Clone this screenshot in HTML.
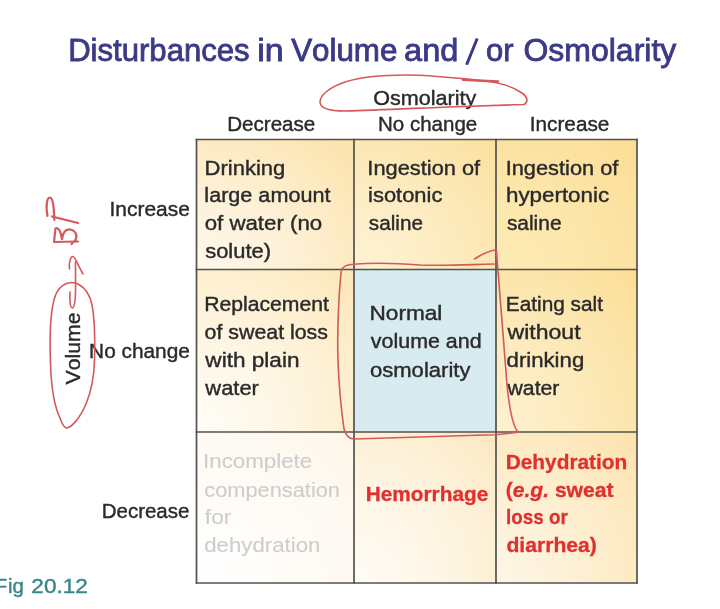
<!DOCTYPE html>
<html><head><meta charset="utf-8"><title>Disturbances in Volume and / or Osmolarity</title>
<style>html,body{margin:0;padding:0;background:#fff;width:720px;height:609px;overflow:hidden}svg{display:block;filter:blur(0.45px)}</style>
</head><body>
<svg width="720" height="609" viewBox="0 0 720 609">
<defs><radialGradient id="g00" cx="0" cy="1" r="1.414" fx="0" fy="1"><stop offset="0" stop-color="#fef8ec"/><stop offset="0.4" stop-color="#fdf1d8"/><stop offset="0.7" stop-color="#fdeac2"/><stop offset="1" stop-color="#fce2a8"/></radialGradient><radialGradient id="g01" cx="0" cy="1" r="1.414" fx="0" fy="1"><stop offset="0" stop-color="#fdf2d4"/><stop offset="0.4" stop-color="#fdedc4"/><stop offset="0.7" stop-color="#fce7b3"/><stop offset="1" stop-color="#fce09e"/></radialGradient><radialGradient id="g02" cx="0" cy="1" r="1.414" fx="0" fy="1"><stop offset="0" stop-color="#fdebb6"/><stop offset="0.4" stop-color="#fde7ac"/><stop offset="0.7" stop-color="#fce2a1"/><stop offset="1" stop-color="#fcdd94"/></radialGradient><radialGradient id="g10" cx="0" cy="1" r="1.414" fx="0" fy="1"><stop offset="0" stop-color="#fffdf8"/><stop offset="0.4" stop-color="#fef6e4"/><stop offset="0.7" stop-color="#fdefcf"/><stop offset="1" stop-color="#fce6b6"/></radialGradient><radialGradient id="g12" cx="0" cy="1" r="1.414" fx="0" fy="1"><stop offset="0" stop-color="#fdf1d0"/><stop offset="0.4" stop-color="#fdebbe"/><stop offset="0.7" stop-color="#fce5ab"/><stop offset="1" stop-color="#fcdd94"/></radialGradient><radialGradient id="g20" cx="0" cy="1" r="1.414" fx="0" fy="1"><stop offset="0" stop-color="#ffffff"/><stop offset="0.4" stop-color="#fffcf8"/><stop offset="0.7" stop-color="#fef9f1"/><stop offset="1" stop-color="#fef6e8"/></radialGradient><radialGradient id="g21" cx="0" cy="1" r="1.414" fx="0" fy="1"><stop offset="0" stop-color="#fffcf7"/><stop offset="0.4" stop-color="#fef6e6"/><stop offset="0.7" stop-color="#fdf0d5"/><stop offset="1" stop-color="#fce8c0"/></radialGradient><radialGradient id="g22" cx="0" cy="1" r="1.414" fx="0" fy="1"><stop offset="0" stop-color="#fef6e6"/><stop offset="0.4" stop-color="#fdf0d5"/><stop offset="0.7" stop-color="#fdeac2"/><stop offset="1" stop-color="#fce2ac"/></radialGradient></defs>
<rect width="720" height="609" fill="#ffffff"/>
<rect x="196.5" y="139.5" width="157.5" height="130.0" fill="url(#g00)"/><rect x="354" y="139.5" width="142" height="130.0" fill="url(#g01)"/><rect x="496" y="139.5" width="141" height="130.0" fill="url(#g02)"/><rect x="196.5" y="269.5" width="157.5" height="162.5" fill="url(#g10)"/><rect x="354" y="269.5" width="142" height="162.5" fill="#d8ebf0"/><rect x="496" y="269.5" width="141" height="162.5" fill="url(#g12)"/><rect x="196.5" y="432" width="157.5" height="151" fill="url(#g20)"/><rect x="354" y="432" width="142" height="151" fill="url(#g21)"/><rect x="496" y="432" width="141" height="151" fill="url(#g22)"/>
<line x1="196.5" y1="138.65" x2="196.5" y2="583.85" stroke="#52524e" stroke-width="1.7"/><line x1="354" y1="138.65" x2="354" y2="583.85" stroke="#52524e" stroke-width="1.7"/><line x1="496" y1="138.65" x2="496" y2="583.85" stroke="#52524e" stroke-width="1.7"/><line x1="637" y1="138.65" x2="637" y2="583.85" stroke="#52524e" stroke-width="1.7"/><line x1="195.65" y1="139.5" x2="637.85" y2="139.5" stroke="#52524e" stroke-width="1.7"/><line x1="195.65" y1="269.5" x2="637.85" y2="269.5" stroke="#52524e" stroke-width="1.7"/><line x1="195.65" y1="432" x2="637.85" y2="432" stroke="#52524e" stroke-width="1.7"/><line x1="195.65" y1="583" x2="637.85" y2="583" stroke="#52524e" stroke-width="1.7"/>
<g style="font-family:'Liberation Sans',sans-serif;font-kerning:none">
<text x="68.15" y="61.00" font-size="32" fill="#3b3a86" font-weight="normal" font-style="normal" textLength="181.47" lengthAdjust="spacingAndGlyphs" xml:space="preserve" stroke="#3b3a86" stroke-width="0.85">Disturbances</text>
<text x="257.22" y="61.00" font-size="32" fill="#3b3a86" font-weight="normal" font-style="normal" textLength="26.49" lengthAdjust="spacingAndGlyphs" xml:space="preserve" stroke="#3b3a86" stroke-width="0.85">in</text>
<text x="291.16" y="61.00" font-size="32" fill="#3b3a86" font-weight="normal" font-style="normal" textLength="106.23" lengthAdjust="spacingAndGlyphs" xml:space="preserve" stroke="#3b3a86" stroke-width="0.85">Volume</text>
<text x="404.12" y="61.00" font-size="32" fill="#3b3a86" font-weight="normal" font-style="normal" textLength="54.28" lengthAdjust="spacingAndGlyphs" xml:space="preserve" stroke="#3b3a86" stroke-width="0.85">and</text>
<text x="486.00" y="61.00" font-size="32" fill="#3b3a86" font-weight="normal" font-style="normal" textLength="27.51" lengthAdjust="spacingAndGlyphs" xml:space="preserve" stroke="#3b3a86" stroke-width="0.85">or</text>
<text x="523.49" y="61.00" font-size="32" fill="#3b3a86" font-weight="normal" font-style="normal" textLength="152.78" lengthAdjust="spacingAndGlyphs" xml:space="preserve" stroke="#3b3a86" stroke-width="0.85">Osmolarity</text>
<path d="M477.2,38.5 L466.6,64.8" stroke="#3b3a86" stroke-width="3" stroke-linecap="butt"/>
<text x="373.18" y="105.30" font-size="20.5" fill="#2a2a2a" font-weight="normal" font-style="normal" textLength="103.16" lengthAdjust="spacingAndGlyphs" xml:space="preserve" stroke="#2a2a2a" stroke-width="0.4">Osmolarity</text>
<text x="227.21" y="131.00" font-size="20.5" fill="#2a2a2a" font-weight="normal" font-style="normal" textLength="88.10" lengthAdjust="spacingAndGlyphs" xml:space="preserve" stroke="#2a2a2a" stroke-width="0.4">Decrease</text>
<text x="378.02" y="130.50" font-size="20.5" fill="#2a2a2a" font-weight="normal" font-style="normal" textLength="99.19" lengthAdjust="spacingAndGlyphs" xml:space="preserve" stroke="#2a2a2a" stroke-width="0.4">No change</text>
<text x="529.78" y="131.00" font-size="20.5" fill="#2a2a2a" font-weight="normal" font-style="normal" textLength="79.64" lengthAdjust="spacingAndGlyphs" xml:space="preserve" stroke="#2a2a2a" stroke-width="0.4">Increase</text>
<text x="109.47" y="216.40" font-size="20.5" fill="#2a2a2a" font-weight="normal" font-style="normal" textLength="80.36" lengthAdjust="spacingAndGlyphs" xml:space="preserve" stroke="#2a2a2a" stroke-width="0.4">Increase</text>
<text x="89.09" y="358.30" font-size="20.5" fill="#2a2a2a" font-weight="normal" font-style="normal" textLength="100.84" lengthAdjust="spacingAndGlyphs" xml:space="preserve" stroke="#2a2a2a" stroke-width="0.4">No change</text>
<text x="101.72" y="517.50" font-size="20.5" fill="#2a2a2a" font-weight="normal" font-style="normal" textLength="87.69" lengthAdjust="spacingAndGlyphs" xml:space="preserve" stroke="#2a2a2a" stroke-width="0.4">Decrease</text>
<text x="-3.76" y="593.20" font-size="20.5" fill="#3a868a" font-weight="normal" font-style="normal" textLength="10.87" lengthAdjust="spacingAndGlyphs" xml:space="preserve" stroke="#3a868a" stroke-width="0.4">F</text>
<text x="8.04" y="593.20" font-size="20.5" fill="#3a868a" font-weight="normal" font-style="normal" textLength="15.88" lengthAdjust="spacingAndGlyphs" xml:space="preserve" stroke="#3a868a" stroke-width="0.4">ig</text>
<text x="31.37" y="593.20" font-size="20.5" fill="#3a868a" font-weight="normal" font-style="normal" textLength="56.47" lengthAdjust="spacingAndGlyphs" xml:space="preserve" stroke="#3a868a" stroke-width="0.4">20.12</text>
<text x="204.59" y="174.60" font-size="20.5" fill="#2a2a2a" font-weight="normal" font-style="normal" textLength="80.72" lengthAdjust="spacingAndGlyphs" xml:space="preserve" stroke="#2a2a2a" stroke-width="0.4">Drinking</text>
<text x="204.34" y="202.20" font-size="20.5" fill="#2a2a2a" font-weight="normal" font-style="normal" textLength="126.11" lengthAdjust="spacingAndGlyphs" xml:space="preserve" stroke="#2a2a2a" stroke-width="0.4">large amount</text>
<text x="204.67" y="229.80" font-size="20.5" fill="#2a2a2a" font-weight="normal" font-style="normal" textLength="117.57" lengthAdjust="spacingAndGlyphs" xml:space="preserve" stroke="#2a2a2a" stroke-width="0.4">of water (no</text>
<text x="205.19" y="257.80" font-size="20.5" fill="#2a2a2a" font-weight="normal" font-style="normal" textLength="65.87" lengthAdjust="spacingAndGlyphs" xml:space="preserve" stroke="#2a2a2a" stroke-width="0.4">solute)</text>
<text x="367.39" y="174.60" font-size="20.5" fill="#2a2a2a" font-weight="normal" font-style="normal" textLength="112.78" lengthAdjust="spacingAndGlyphs" xml:space="preserve" stroke="#2a2a2a" stroke-width="0.4">Ingestion of</text>
<text x="368.14" y="202.40" font-size="20.5" fill="#2a2a2a" font-weight="normal" font-style="normal" textLength="74.24" lengthAdjust="spacingAndGlyphs" xml:space="preserve" stroke="#2a2a2a" stroke-width="0.4">isotonic</text>
<text x="368.82" y="230.40" font-size="20.5" fill="#2a2a2a" font-weight="normal" font-style="normal" textLength="54.10" lengthAdjust="spacingAndGlyphs" xml:space="preserve" stroke="#2a2a2a" stroke-width="0.4">saline</text>
<text x="505.69" y="174.50" font-size="20.5" fill="#2a2a2a" font-weight="normal" font-style="normal" textLength="112.68" lengthAdjust="spacingAndGlyphs" xml:space="preserve" stroke="#2a2a2a" stroke-width="0.4">Ingestion of</text>
<text x="505.95" y="202.40" font-size="20.5" fill="#2a2a2a" font-weight="normal" font-style="normal" textLength="103.24" lengthAdjust="spacingAndGlyphs" xml:space="preserve" stroke="#2a2a2a" stroke-width="0.4">hypertonic</text>
<text x="506.92" y="230.40" font-size="20.5" fill="#2a2a2a" font-weight="normal" font-style="normal" textLength="54.61" lengthAdjust="spacingAndGlyphs" xml:space="preserve" stroke="#2a2a2a" stroke-width="0.4">saline</text>
<text x="204.16" y="310.70" font-size="20.5" fill="#2a2a2a" font-weight="normal" font-style="normal" textLength="124.79" lengthAdjust="spacingAndGlyphs" xml:space="preserve" stroke="#2a2a2a" stroke-width="0.4">Replacement</text>
<text x="204.60" y="339.00" font-size="20.5" fill="#2a2a2a" font-weight="normal" font-style="normal" textLength="123.37" lengthAdjust="spacingAndGlyphs" xml:space="preserve" stroke="#2a2a2a" stroke-width="0.4">of sweat loss</text>
<text x="205.33" y="366.80" font-size="20.5" fill="#2a2a2a" font-weight="normal" font-style="normal" textLength="94.13" lengthAdjust="spacingAndGlyphs" xml:space="preserve" stroke="#2a2a2a" stroke-width="0.4">with plain</text>
<text x="205.33" y="395.00" font-size="20.5" fill="#2a2a2a" font-weight="normal" font-style="normal" textLength="53.53" lengthAdjust="spacingAndGlyphs" xml:space="preserve" stroke="#2a2a2a" stroke-width="0.4">water</text>
<text x="369.55" y="320.00" font-size="20.5" fill="#2a2a2a" font-weight="normal" font-style="normal" textLength="72.76" lengthAdjust="spacingAndGlyphs" xml:space="preserve" stroke="#2a2a2a" stroke-width="0.4">Normal</text>
<text x="370.83" y="348.30" font-size="20.5" fill="#2a2a2a" font-weight="normal" font-style="normal" textLength="110.75" lengthAdjust="spacingAndGlyphs" xml:space="preserve" stroke="#2a2a2a" stroke-width="0.4">volume and</text>
<text x="369.97" y="376.60" font-size="20.5" fill="#2a2a2a" font-weight="normal" font-style="normal" textLength="100.47" lengthAdjust="spacingAndGlyphs" xml:space="preserve" stroke="#2a2a2a" stroke-width="0.4">osmolarity</text>
<text x="505.79" y="310.70" font-size="20.5" fill="#2a2a2a" font-weight="normal" font-style="normal" textLength="97.26" lengthAdjust="spacingAndGlyphs" xml:space="preserve" stroke="#2a2a2a" stroke-width="0.4">Eating salt</text>
<text x="507.53" y="338.70" font-size="20.5" fill="#2a2a2a" font-weight="normal" font-style="normal" textLength="73.04" lengthAdjust="spacingAndGlyphs" xml:space="preserve" stroke="#2a2a2a" stroke-width="0.4">without</text>
<text x="506.57" y="366.80" font-size="20.5" fill="#2a2a2a" font-weight="normal" font-style="normal" textLength="77.66" lengthAdjust="spacingAndGlyphs" xml:space="preserve" stroke="#2a2a2a" stroke-width="0.4">drinking</text>
<text x="507.53" y="394.80" font-size="20.5" fill="#2a2a2a" font-weight="normal" font-style="normal" textLength="51.92" lengthAdjust="spacingAndGlyphs" xml:space="preserve" stroke="#2a2a2a" stroke-width="0.4">water</text>
<text x="203.14" y="468.30" font-size="20.5" fill="#cdcdcd" font-weight="normal" font-style="normal" textLength="109.05" lengthAdjust="spacingAndGlyphs" xml:space="preserve" stroke="#cdcdcd" stroke-width="0.1">Incomplete</text>
<text x="204.27" y="496.50" font-size="20.5" fill="#cdcdcd" font-weight="normal" font-style="normal" textLength="135.74" lengthAdjust="spacingAndGlyphs" xml:space="preserve" stroke="#cdcdcd" stroke-width="0.1">compensation</text>
<text x="204.88" y="524.40" font-size="20.5" fill="#cdcdcd" font-weight="normal" font-style="normal" textLength="26.60" lengthAdjust="spacingAndGlyphs" xml:space="preserve" stroke="#cdcdcd" stroke-width="0.1">for</text>
<text x="204.27" y="552.30" font-size="20.5" fill="#cdcdcd" font-weight="normal" font-style="normal" textLength="116.08" lengthAdjust="spacingAndGlyphs" xml:space="preserve" stroke="#cdcdcd" stroke-width="0.1">dehydration</text>
<text x="365.81" y="500.90" font-size="20.5" fill="#e0302f" font-weight="bold" font-style="normal" textLength="122.40" lengthAdjust="spacingAndGlyphs" xml:space="preserve" stroke="#e0302f" stroke-width="0.3">Hemorrhage</text>
<text x="505.71" y="468.60" font-size="20.5" fill="#e0302f" font-weight="bold" font-style="normal" textLength="121.59" lengthAdjust="spacingAndGlyphs" xml:space="preserve" stroke="#e0302f" stroke-width="0.3">Dehydration</text>
<text x="505.65" y="496.50" font-size="20.5" fill="#e0302f" font-weight="bold" font-style="normal" textLength="7.03" lengthAdjust="spacingAndGlyphs" xml:space="preserve" stroke="#e0302f" stroke-width="0.3">(</text>
<text x="512.68" y="496.50" font-size="20.5" fill="#e0302f" font-weight="bold" font-style="italic" textLength="36.36" lengthAdjust="spacingAndGlyphs" xml:space="preserve" stroke="#e0302f" stroke-width="0.3">e.g.</text>
<text x="549.03" y="496.50" font-size="20.5" fill="#e0302f" font-weight="bold" font-style="normal" textLength="64.52" lengthAdjust="spacingAndGlyphs" xml:space="preserve" stroke="#e0302f" stroke-width="0.3"> sweat</text>
<text x="505.98" y="524.40" font-size="20.5" fill="#e0302f" font-weight="bold" font-style="normal" textLength="61.80" lengthAdjust="spacingAndGlyphs" xml:space="preserve" stroke="#e0302f" stroke-width="0.3">loss or</text>
<text x="506.43" y="552.20" font-size="20.5" fill="#e0302f" font-weight="bold" font-style="normal" textLength="90.42" lengthAdjust="spacingAndGlyphs" xml:space="preserve" stroke="#e0302f" stroke-width="0.3">diarrhea)</text>
<g transform="translate(80.2 384.4) rotate(-90)"><text x="-0.09" y="0.00" font-size="20.5" fill="#2a2a2a" font-weight="normal" font-style="normal" textLength="72.14" lengthAdjust="spacingAndGlyphs" xml:space="preserve" stroke="#2a2a2a" stroke-width="0.4">Volume</text></g>
</g>
<g fill="none" stroke="#d4585c" stroke-width="1.6" stroke-linecap="round" stroke-linejoin="round">
<path d="M524,104.5 C529,102 527,96 522,93 C512,86 500,82 480,80.5 C455,78 430,75 406,75 C385,75 360,77 345,82 C330,87 320,95 320,102 C320,108 327,111 345,111 C380,110 420,108 455,106.7 C480,106 505,105 524,104.5"/>
<path d="M463,79.8 L498,81.5" stroke-width="2.6"/>
<path d="M72,282.5 C62,283 55,291 52.7,306 C50,320 49.5,345 51,375 C52.5,395 56,410 60,418 C62,424 64,428 67,428 C72,427 80,418 86,404 C91,392 94,380 94.5,360 C95,340 94,315 92,305 C90,295 85,288 79,284.5 C76.5,283 74,282.5 72,282.5"/>
<path d="M69.5,269 C68.5,262 71,256 73,256.5 C75.5,257 78,266 83,274"/>
<path d="M75.5,262 L75.5,289 C75.5,298 74.5,307 72.5,308 C70,308 69.5,300 70,292"/>
<path d="M47.5,216 C45.5,205 47,197.5 50,197.5 C53.5,198 54,210 54.3,220" stroke-width="2.2"/>
<path d="M52,216.5 L78,223" stroke-width="2.3"/>
<path d="M78,241.5 L54,242 L55.5,228.5 C58.5,227 61,232 62,239 C63,232 66,229 70,229.5 C76,230.5 78,236 75,241 L71.5,244" stroke-width="2.2"/>
<path d="M341.5,269 C339,290 337,330 338,360 C339,390 342,415 344,429 C346,436 350,439 354,439 C380,438 440,436.5 495.6,434.7 C505,434 512,433 518,432.3 C512,425 509,405 507,385 C505,360 502,320 499.5,290 C498.5,275 497,262 496.5,250"/>
<path d="M341.5,269.5 C344,266 348,264.5 353,264.3 C380,262 400,263.5 420,265 C445,266 470,264.5 494,264"/>
<path d="M474.5,259 C482,254 489,251 495,250"/>
</g>
</svg>
</body></html>
